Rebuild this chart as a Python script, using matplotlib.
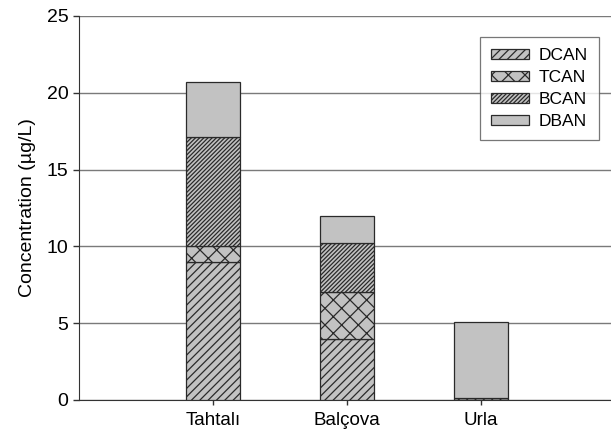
import matplotlib
matplotlib.use("Agg")
import matplotlib.pyplot as plt
import numpy as np

plt.rcParams['font.family'] = ['Liberation Sans', 'DejaVu Sans']
plt.rcParams['hatch.linewidth'] = 0.9
plt.rcParams['hatch.color'] = '#2a2a2a'

sites = ["Tahtalı", "Balçova", "Urla"]
DCAN = [9.0, 4.0, 0.15]
TCAN = [1.0, 3.0, 0.0]
BCAN = [7.1, 3.2, 0.0]
DBAN = [3.6, 1.8, 4.95]

series = [("DCAN", DCAN, "////"), ("TCAN", TCAN, "xx"), ("BCAN", BCAN, "////////"), ("DBAN", DBAN, None)]

fig = plt.figure(figsize=(6.11, 4.32), dpi=100)
ax = fig.add_axes([79/611, 1-400/432, 536/611, 384/432])

x = np.arange(len(sites))
bottom = np.zeros(len(sites))
for name, vals, hatch in series:
    vals = np.array(vals)
    ax.bar(x, vals, width=0.41, bottom=bottom, color='#c2c2c2', edgecolor='#2a2a2a',
           hatch=hatch, linewidth=0.9, label=name, zorder=3)
    bottom += vals

ax.set_xlim(-1, 3)
ax.set_ylim(0, 25)
ax.set_yticks([0, 5, 10, 15, 20, 25])
ax.set_xticks(x)
ax.set_xticklabels(sites, fontsize=13.5)
ax.tick_params(axis='y', labelsize=14, length=4.5, width=1, color='#333333', pad=3)
ax.tick_params(axis='x', length=3.5, width=1, color='#333333', pad=5)
ax.yaxis.grid(True, color='#7a7a7a', linewidth=1.0, zorder=0)
ax.set_axisbelow(True)
for s in ['top', 'right']:
    ax.spines[s].set_visible(False)
ax.spines['left'].set_color('#333333')
ax.spines['bottom'].set_color('#333333')
ax.set_ylabel("Concentration (µg/L)", fontsize=14, labelpad=8)

leg = ax.legend(loc='upper right', fontsize=12.5, frameon=True, fancybox=False,
                edgecolor='#555555', handlelength=2.2, handleheight=0.45, labelspacing=0.4,
                borderpad=0.65, handletextpad=0.55, borderaxespad=0)
leg.set_bbox_to_anchor((599/611, 1 - 37/432), transform=fig.transFigure)
leg.get_frame().set_linewidth(0.9)

fig.savefig("out.png", dpi=100)
